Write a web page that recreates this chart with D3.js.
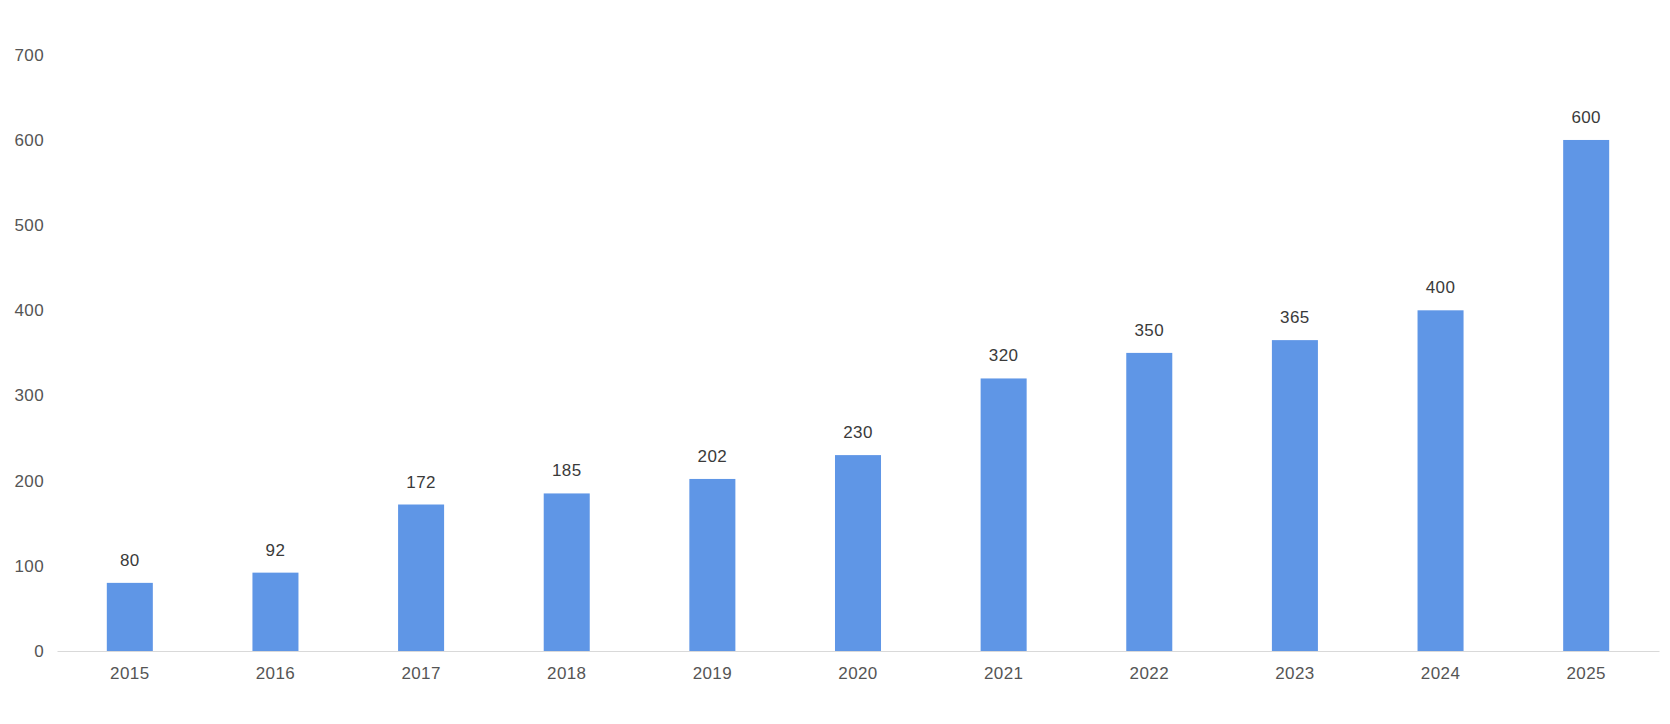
<!DOCTYPE html>
<html>
<head>
<meta charset="utf-8">
<script src="https://cdn.jsdelivr.net/npm/d3@7"></script>
<style>
  body { margin: 0; background: #fff; }
  svg text { font-family: "Liberation Sans", Arial, sans-serif; letter-spacing: 0.4px; }
</style>
</head>
<body>
<script>
const years = ['2015', '2016', '2017', '2018', '2019', '2020', '2021', '2022', '2023', '2024', '2025'];
const values = [80, 92, 172, 185, 202, 230, 320, 350, 365, 400, 600];
const yTicks = [0, 100, 200, 300, 400, 500, 600, 700];

const width = 1670;
const height = 724;

const svg = d3.select('body')
  .append('svg')
    .attr('width', width)
    .attr('height', height);

const x = d3.scaleBand()
  .domain(years)
  .range([57, 1659])
  .paddingInner(0.684)
  .paddingOuter(0.342);

const y = d3.scaleLinear()
  .domain([0, 700])
  .range([651, 54.8]);

// y labels, no line
const yAxis = svg.append('g')
  .attr('transform', 'translate(44,0)')
  .call(d3.axisLeft(y).tickValues(yTicks).tickSize(0).tickPadding(0));
yAxis.select('.domain').remove();
yAxis.selectAll('text')
  .attr('fill', '#555')
  .attr('font-size', 17);

svg.append('g')
  .selectAll('rect')
  .data(values)
  .join('rect')
    .attr('x', (d, i) => x(years[i]))
    .attr('y', d => y(d))
    .attr('width', x.bandwidth())
    .attr('height', d => y(0) - y(d))
    .attr('fill', '#5f96e6');

svg.append('g')
  .selectAll('text')
  .data(values)
  .join('text')
    .attr('x', (d, i) => x(years[i]) + x.bandwidth() / 2)
    .attr('y', d => y(d) - 17)
    .attr('text-anchor', 'middle')
    .attr('font-size', 17)
    .attr('fill', '#3a3a3a')
    .text(d => d);

const xAxis = svg.append('g')
  .attr('transform', `translate(0,${y(0)})`)
  .call(d3.axisBottom(x).tickSize(0).tickPadding(16));
xAxis.select('.domain')
  .attr('stroke', '#d9d9d9');
xAxis.selectAll('text')
  .attr('fill', '#555')
  .attr('font-size', 17);
</script>
</body>
</html>
